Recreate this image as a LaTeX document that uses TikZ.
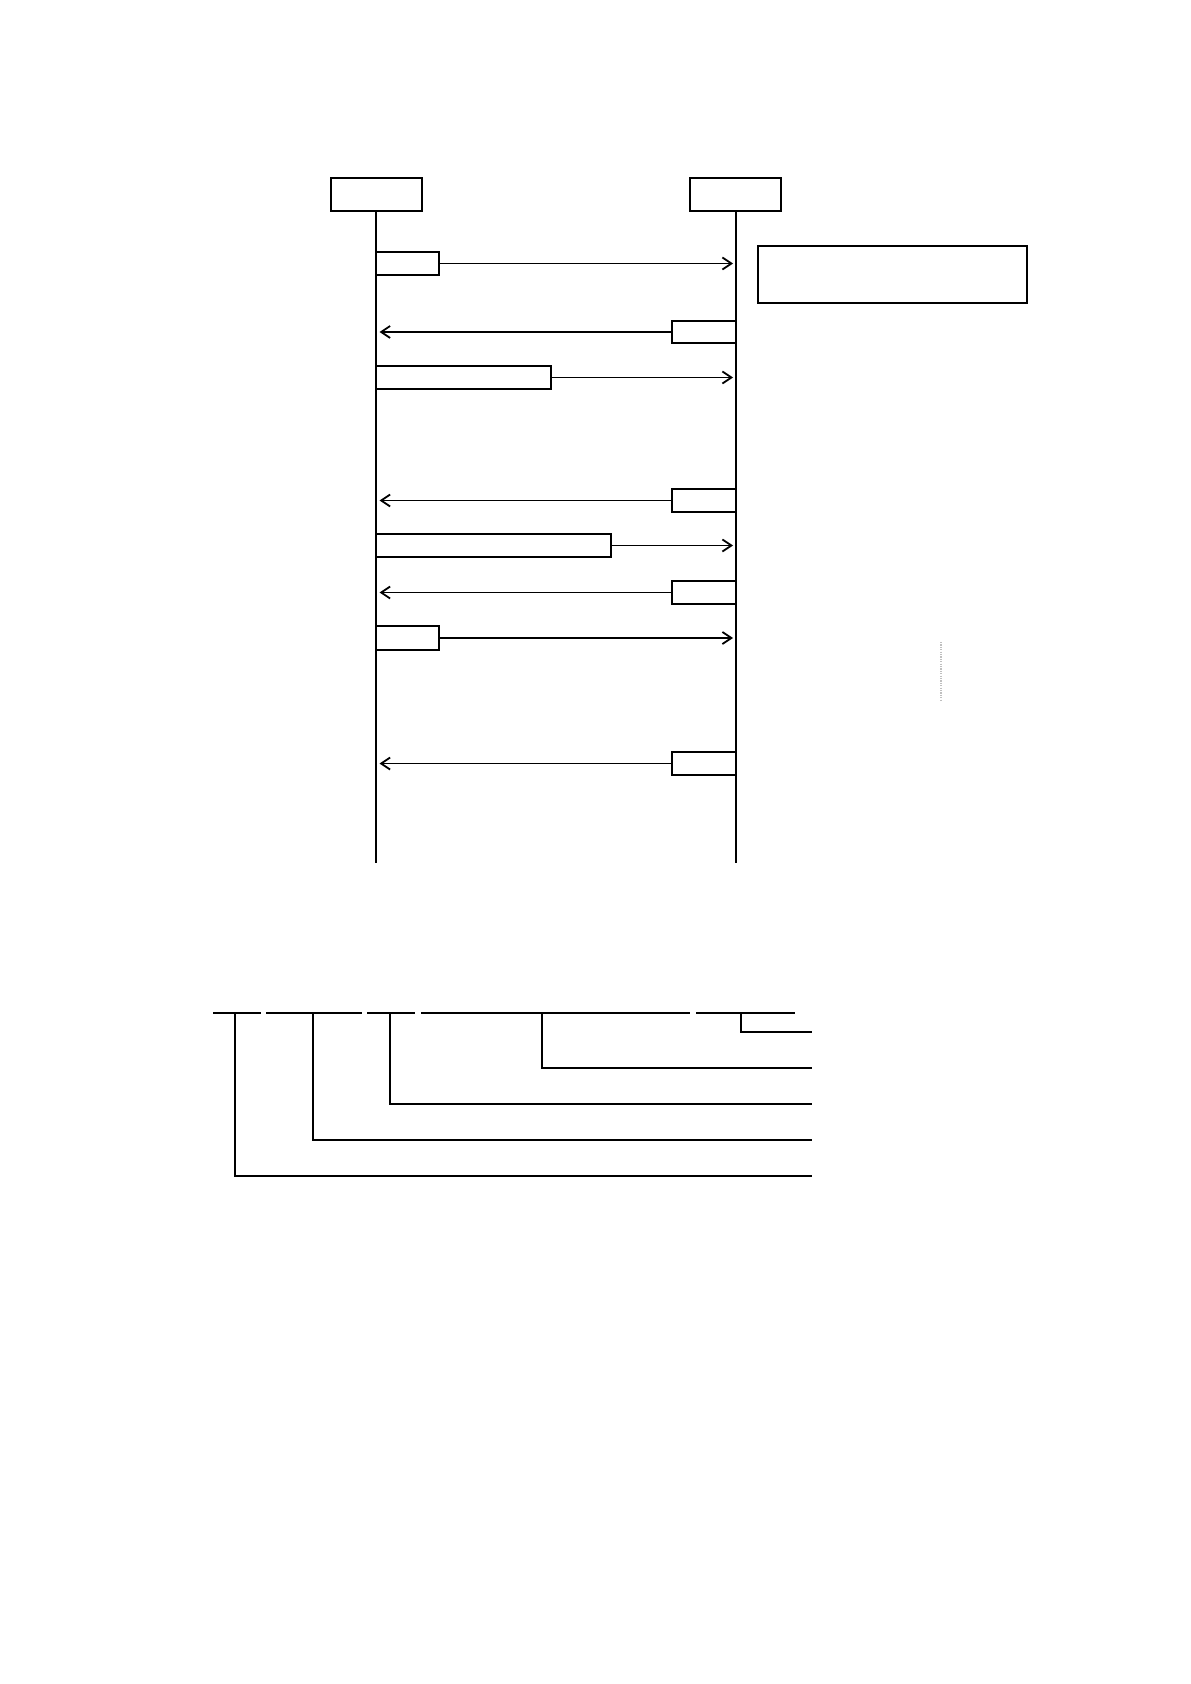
\documentclass[tikz,border=0pt]{standalone}
\usetikzlibrary{arrows.meta}
\begin{document}
\begin{tikzpicture}[x=0.5pt,y=-0.5pt,
  lifebox/.style={draw,line width=1pt,minimum width=45.5pt,minimum height=16.5pt,inner sep=0pt},
  msgbox/.style={draw,line width=1.1pt,minimum height=11.5pt,inner sep=0pt,fill=white},
  notebox/.style={draw,line width=0.9pt,minimum width=134.5pt,minimum height=28.5pt,inner sep=0pt},
  life/.style={line width=1pt},
  msg/.style={line width=0.95pt,-{Straight Barb[length=4.5pt,width=6pt,line width=0.9pt]}},
  brk/.style={line width=1pt},
  topseg/.style={line width=0.85pt},
  guide/.style={gray!50,dash pattern=on 0.6pt off 0.6pt,line width=0.7pt}
]
\useasboundingbox (0,0) rectangle (1190,1684);

% lifeline headers
\node[lifebox] (A) at (376,195) {};
\node[lifebox] (B) at (735.5,195) {};
\coordinate (Aend) at (376,863);
\coordinate (Bend) at (735.5,863);
\draw[life] (A.south) -- (Aend);
\draw[life] (B.south) -- (Bend);

% arrow tip positions
\coordinate (Bt) at (733,0);
\coordinate (At) at (379.5,0);

% note box
\node[notebox] (note) at (892.5,274.5) {};

% message boxes
\node[msgbox,minimum width=31.5pt] (m1) at (407.5,263.5) {};
\node[msgbox,minimum width=32pt,minimum height=11pt] (m2) at (704,332) {};
\node[msgbox,minimum width=87.5pt] (m3) at (463.5,377.5) {};
\node[msgbox,minimum width=32pt] (m4) at (704,500.5) {};
\node[msgbox,minimum width=117.5pt] (m5) at (493.5,545.5) {};
\node[msgbox,minimum width=32pt] (m6) at (704,592.5) {};
\node[msgbox,minimum width=31.5pt,minimum height=12pt] (m7) at (407.5,638) {};
\node[msgbox,minimum width=32pt] (m8) at (704,763.5) {};

% messages
\draw[msg] (m1.east) -- (m1.east -| Bt);
\draw[msg] (m2.west) -- (m2.west -| At);
\draw[msg] (m3.east) -- (m3.east -| Bt);
\draw[msg] (m4.west) -- (m4.west -| At);
\draw[msg] (m5.east) -- (m5.east -| Bt);
\draw[msg] (m6.west) -- (m6.west -| At);
\draw[msg] (m7.east) -- (m7.east -| Bt);
\draw[msg] (m8.west) -- (m8.west -| At);

% faint dotted guide
\coordinate (d1) at (941,642);
\coordinate (d2) at (941,701);
\draw[guide] (d1) -- (d2);

% bottom field breakdown
\coordinate (s1a) at (213,1013); \coordinate (s1b) at (261,1013);
\coordinate (s2a) at (266,1013); \coordinate (s2b) at (362,1013);
\coordinate (s3a) at (367,1013); \coordinate (s3b) at (415,1013);
\coordinate (s4a) at (421,1013); \coordinate (s4b) at (690,1013);
\coordinate (s5a) at (696,1013); \coordinate (s5b) at (795,1013);
\draw[topseg] (s1a) -- (s1b);
\draw[topseg] (s2a) -- (s2b);
\draw[topseg] (s3a) -- (s3b);
\draw[topseg] (s4a) -- (s4b);
\draw[topseg] (s5a) -- (s5b);

\coordinate (v1) at (235,1013); \coordinate (e1) at (812,1176);
\coordinate (v2) at (313,1013); \coordinate (e2) at (812,1140);
\coordinate (v3) at (390,1013); \coordinate (e3) at (812,1104);
\coordinate (v4) at (542,1013); \coordinate (e4) at (812,1068);
\coordinate (v5) at (741,1013); \coordinate (e5) at (812,1032);
\draw[brk] (v1) |- (e1);
\draw[brk] (v2) |- (e2);
\draw[brk,line width=0.85pt] (v3) |- (e3);
\draw[brk] (v4) |- (e4);
\draw[brk] (v5) |- (e5);
\end{tikzpicture}
\end{document}
